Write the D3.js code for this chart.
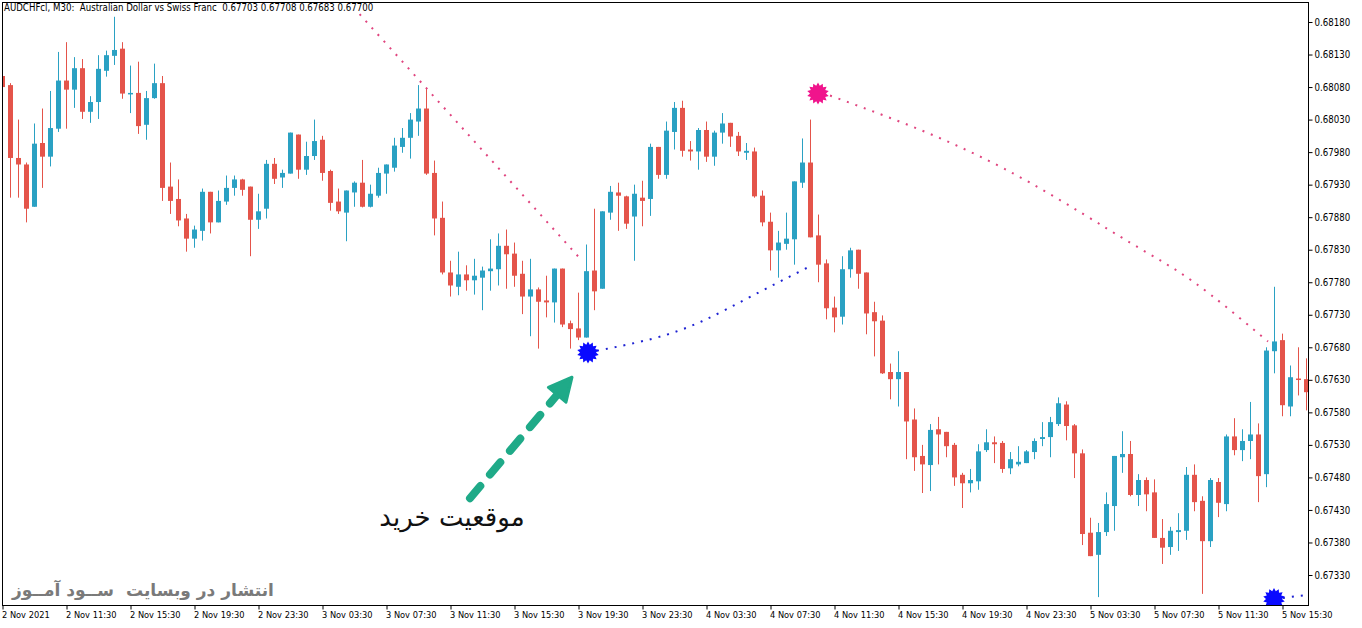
<!DOCTYPE html>
<html><head><meta charset="utf-8">
<script src="https://cdn.jsdelivr.net/npm/d3@7"></script>
<style>body{margin:0;background:#fff;} svg{display:block}</style>
</head><body>
<svg id="c" width="1362" height="628"></svg>
<script>
// ---- data (M30 bars, first bar = 2 Nov 2021 07:30) ----
const timeLabels = ["2 Nov 2021","2 Nov 11:30","2 Nov 15:30","2 Nov 19:30","2 Nov 23:30","3 Nov 03:30","3 Nov 07:30","3 Nov 11:30","3 Nov 15:30","3 Nov 19:30","3 Nov 23:30","4 Nov 03:30","4 Nov 07:30","4 Nov 11:30","4 Nov 15:30","4 Nov 19:30","4 Nov 23:30","5 Nov 03:30","5 Nov 07:30","5 Nov 11:30","5 Nov 15:30"];
const priceTicks = [0.67330,0.67380,0.67430,0.67480,0.67530,0.67580,0.67630,0.67680,0.67730,0.67780,0.67830,0.67880,0.67930,0.67980,0.68030,0.68080,0.68130,0.68180];

const open = [0.68097,0.68083,0.67971,0.67961,0.67896,0.67994,0.67973,0.68016,0.68090,0.68076,0.68109,0.68042,0.68057,0.68105,0.68128,0.68139,0.68070,0.68071,0.68022,0.68063,
0.68086,0.67927,0.67908,0.67878,0.67847,0.67859,0.67919,0.67872,0.67904,0.67925,0.67938,0.67927,0.67876,0.67893,0.67962,0.67941,0.67947,0.68007,0.67953,0.67974,
0.67999,0.67951,0.67904,0.67887,0.67918,0.67933,0.67896,0.67913,0.67947,0.67956,0.67988,0.68002,0.68027,0.68047,0.67948,0.67879,0.67795,0.67773,0.67792,0.67783,
0.67787,0.67797,0.67800,0.67836,0.67824,0.67793,0.67758,0.67769,0.67752,0.67749,0.67801,0.67717,0.67709,0.67695,0.67798,0.67770,0.67887,0.67918,0.67912,0.67881,
0.67910,0.67908,0.67988,0.67945,0.68011,0.68048,0.67984,0.67981,0.68014,0.67973,0.68010,0.68025,0.68005,0.67979,0.67981,0.67913,0.67873,0.67829,0.67839,0.67846,
0.67933,0.67964,0.67852,0.67809,0.67741,0.67727,0.67800,0.67830,0.67795,0.67734,0.67721,0.67642,0.67631,0.67642,0.67569,0.67513,0.67499,0.67554,0.67550,0.67530,
0.67484,0.67471,0.67474,0.67522,0.67534,0.67533,0.67494,0.67500,0.67502,0.67519,0.67539,0.67542,0.67562,0.67592,0.67560,0.67517,0.67395,0.67361,0.67396,0.67436,
0.67511,0.67516,0.67453,0.67476,0.67457,0.67387,0.67373,0.67396,0.67398,0.67484,0.67444,0.67382,0.67473,0.67439,0.67543,0.67522,0.67536,0.67546,0.67485,0.67674,
0.67691,0.67589,0.67632,0.67631];
const high = [0.68102,0.68086,0.68030,0.67964,0.68024,0.68047,0.68074,0.68134,0.68149,0.68126,0.68123,0.68066,0.68129,0.68136,0.68188,0.68149,0.68113,0.68119,0.68074,0.68116,
0.68097,0.67964,0.67938,0.67885,0.67867,0.67924,0.67919,0.67921,0.67944,0.67944,0.67939,0.67927,0.67916,0.67968,0.67971,0.67953,0.68010,0.68007,0.67996,0.68030,
0.68005,0.67953,0.67924,0.67921,0.67935,0.67968,0.67930,0.67956,0.67961,0.68002,0.68017,0.68040,0.68083,0.68079,0.67967,0.67904,0.67813,0.67827,0.67806,0.67816,
0.67804,0.67846,0.67855,0.67861,0.67841,0.67813,0.67816,0.67772,0.67790,0.67801,0.67801,0.67721,0.67764,0.67838,0.67893,0.67889,0.67928,0.67933,0.67913,0.67930,
0.67936,0.67993,0.67988,0.68027,0.68057,0.68059,0.67997,0.68017,0.68027,0.68013,0.68040,0.68025,0.68011,0.67994,0.67987,0.67921,0.67887,0.67859,0.67887,0.67935,
0.68001,0.68030,0.67884,0.67815,0.67758,0.67820,0.67833,0.67830,0.67795,0.67750,0.67729,0.67655,0.67674,0.67642,0.67586,0.67530,0.67562,0.67573,0.67550,0.67533,
0.67487,0.67493,0.67531,0.67554,0.67543,0.67536,0.67519,0.67528,0.67522,0.67540,0.67565,0.67573,0.67603,0.67597,0.67562,0.67523,0.67418,0.67410,0.67457,0.67513,
0.67551,0.67536,0.67485,0.67480,0.67477,0.67416,0.67404,0.67425,0.67496,0.67500,0.67451,0.67479,0.67479,0.67546,0.67571,0.67554,0.67596,0.67563,0.67680,0.67773,
0.67701,0.67652,0.67680,0.67663];
const low = [0.68076,0.67910,0.67910,0.67872,0.67896,0.67925,0.67958,0.68011,0.68016,0.68048,0.68031,0.68025,0.68031,0.68096,0.68114,0.68062,0.68040,0.68008,0.67999,0.68062,
0.67905,0.67885,0.67866,0.67827,0.67833,0.67844,0.67855,0.67872,0.67899,0.67913,0.67913,0.67820,0.67862,0.67878,0.67931,0.67925,0.67947,0.67939,0.67945,0.67968,
0.67936,0.67890,0.67885,0.67843,0.67896,0.67895,0.67895,0.67910,0.67916,0.67950,0.67979,0.67970,0.68005,0.67945,0.67852,0.67792,0.67758,0.67760,0.67767,0.67761,
0.67737,0.67767,0.67775,0.67770,0.67773,0.67731,0.67697,0.67678,0.67726,0.67718,0.67711,0.67678,0.67691,0.67695,0.67737,0.67770,0.67876,0.67859,0.67862,0.67813,
0.67866,0.67882,0.67939,0.67939,0.67984,0.67973,0.67967,0.67953,0.67965,0.67959,0.67993,0.67988,0.67974,0.67968,0.67910,0.67866,0.67798,0.67787,0.67830,0.67807,
0.67925,0.67849,0.67780,0.67723,0.67703,0.67715,0.67787,0.67770,0.67700,0.67666,0.67639,0.67600,0.67589,0.67508,0.67490,0.67456,0.67459,0.67500,0.67511,0.67467,
0.67433,0.67457,0.67461,0.67519,0.67502,0.67487,0.67485,0.67497,0.67502,0.67508,0.67528,0.67511,0.67559,0.67537,0.67479,0.67376,0.67359,0.67296,0.67390,0.67398,
0.67487,0.67451,0.67436,0.67428,0.67387,0.67347,0.67361,0.67367,0.67384,0.67428,0.67301,0.67373,0.67419,0.67428,0.67514,0.67505,0.67508,0.67442,0.67465,0.67640,
0.67574,0.67574,0.67606,0.67583];
const close = [0.68080,0.67971,0.67961,0.67893,0.67993,0.67973,0.68017,0.68090,0.68076,0.68109,0.68042,0.68057,0.68108,0.68129,0.68137,0.68070,0.68071,0.68020,0.68063,0.68086,
0.67925,0.67905,0.67875,0.67847,0.67861,0.67919,0.67872,0.67905,0.67925,0.67938,0.67922,0.67876,0.67889,0.67962,0.67939,0.67948,0.68010,0.67953,0.67974,0.67997,
0.67948,0.67902,0.67889,0.67921,0.67933,0.67896,0.67916,0.67948,0.67961,0.67990,0.68002,0.68030,0.68047,0.67947,0.67878,0.67795,0.67775,0.67792,0.67783,0.67790,
0.67798,0.67801,0.67836,0.67823,0.67790,0.67758,0.67769,0.67750,0.67749,0.67801,0.67715,0.67708,0.67695,0.67797,0.67766,0.67889,0.67919,0.67913,0.67870,0.67916,
0.67905,0.67988,0.67945,0.68013,0.68048,0.67982,0.67981,0.68014,0.67973,0.68010,0.68024,0.68004,0.67981,0.67982,0.67912,0.67872,0.67829,0.67841,0.67847,0.67935,
0.67964,0.67849,0.67807,0.67740,0.67726,0.67800,0.67829,0.67793,0.67732,0.67720,0.67640,0.67631,0.67642,0.67566,0.67511,0.67500,0.67553,0.67546,0.67528,0.67480,
0.67471,0.67476,0.67520,0.67534,0.67531,0.67493,0.67508,0.67504,0.67520,0.67536,0.67542,0.67565,0.67594,0.67559,0.67517,0.67393,0.67359,0.67396,0.67439,0.67513,
0.67516,0.67453,0.67476,0.67454,0.67387,0.67372,0.67398,0.67399,0.67484,0.67442,0.67382,0.67476,0.67441,0.67543,0.67522,0.67536,0.67546,0.67482,0.67675,0.67689,
0.67591,0.67634,0.67631,0.67611];

// indicator arcs: [bar index, price]
const sellArcA = [[44.7,0.68192],[72.0,0.67820]];
const sellArcB = [[103.5,0.68067],[116,0.68008],[128.5,0.67933],[141,0.67841],[149,0.67780],[158.25,0.67689]];
const buyArcA  = [[73.25,0.67672],[81.25,0.67693],[87.5,0.67720],[93.75,0.67759],[101.25,0.67806]];
const buyArcB  = [[159,0.67293],[163.5,0.67300]];
const buyStars  = [[73.25,0.67672],[159,0.67293]];
const sellStars = [[102,0.68070]];
const arrowTail = [58.5,0.67448], arrowTip = [71.25,0.67634];
const noteLabel = {bar:56.25, price:0.67405, text:"موقعیت خرید"};
const titleText = "AUDCHFcl, M30:  Australian Dollar vs Swiss Franc  0.67703 0.67708 0.67683 0.67700";
const watermark = "انتشار در وبسایت  ســود آمــوز";

// ---- layout ----
const svg = d3.select("#c");
const L = 2.5, R = 1308.5, T = 2.5, B = 605.5;
const x = d3.scaleLinear().domain([0,163]).range([2,1306]);
const y = d3.scaleLinear().domain([0.67330,0.68180]).range([575,22]);
const UP = "#2aa1c3", DN = "#e4544a";
const FONT = "'DejaVu Sans Condensed','DejaVu Sans',sans-serif";

svg.append("defs").append("clipPath").attr("id","pc")
  .append("rect").attr("x",L).attr("y",T).attr("width",R-L).attr("height",B-T);
const plot = svg.append("g").attr("clip-path","url(#pc)");

const bars = d3.range(open.length).map(i=>({i,o:open[i],h:high[i],l:low[i],c:close[i]}));
const g = plot.append("g");
g.selectAll("line.w").data(bars).join("line")
  .attr("x1",d=>Math.round(x(d.i))+0.5).attr("x2",d=>Math.round(x(d.i))+0.5)
  .attr("y1",d=>y(d.h)).attr("y2",d=>y(d.l))
  .attr("stroke",d=>d.c>=d.o?UP:DN).attr("stroke-width",1);
g.selectAll("rect.b").data(bars).join("rect")
  .attr("x",d=>Math.round(x(d.i))-2).attr("width",5)
  .attr("y",d=>y(Math.max(d.o,d.c)))
  .attr("height",d=>Math.max(1.5,Math.abs(y(d.o)-y(d.c))))
  .attr("fill",d=>d.c>=d.o?UP:DN);

// dotted arcs
const ln = d3.line().x(d=>x(d[0])).y(d=>y(d[1])).curve(d3.curveNatural);
function dotted(data,color){
  plot.append("path").attr("d",ln(data)).attr("fill","none")
    .attr("stroke",color).attr("stroke-width",2).attr("stroke-dasharray","2,7");
}
dotted(sellArcA,"#e0457f");
dotted(sellArcB,"#e0457f");
dotted(buyArcA,"#1e22d2");
dotted(buyArcB,"#1e22d2");

// stars
function starPath(r1,r2,n){
  const p=[];
  for(let k=0;k<2*n;k++){const a=k*Math.PI/n-Math.PI/2, r=k%2?r2:r1; p.push([r*Math.cos(a),r*Math.sin(a)]);}
  return "M"+p.map(q=>q[0].toFixed(2)+","+q[1].toFixed(2)).join("L")+"Z";
}
const sp = starPath(11,8,14);
plot.selectAll("path.bs").data(buyStars).join("path").attr("d",sp)
  .attr("transform",d=>`translate(${x(d[0])},${y(d[1])})`).attr("fill","#0a0aff");
plot.selectAll("path.ss").data(sellStars).join("path").attr("d",sp)
  .attr("transform",d=>`translate(${x(d[0])},${y(d[1])})`).attr("fill","#f0148c");

// arrow
{
  const x0=x(arrowTail[0]), y0=y(arrowTail[1]), x1=x(arrowTip[0]), y1=y(arrowTip[1]);
  const dx=x1-x0, dy=y1-y0, len=Math.hypot(dx,dy), ux=dx/len, uy=dy/len, px=-uy, py=ux;
  const hl=23, hw=11.5;
  const bx=x1-ux*hl, by=y1-uy*hl;
  svg.append("line").attr("x1",x0).attr("y1",y0).attr("x2",bx+ux*2).attr("y2",by+uy*2)
    .attr("stroke","#1faa88").attr("stroke-width",8).attr("stroke-linecap","round")
    .attr("stroke-dasharray","16,15");
  svg.append("path").attr("d",`M${x1},${y1}L${bx+px*hw},${by+py*hw}L${bx-px*hw},${by-py*hw}Z`)
    .attr("fill","#1faa88").attr("stroke","#1faa88").attr("stroke-width",3).attr("stroke-linejoin","round");
}
svg.append("text").attr("x",x(noteLabel.bar)).attr("y",y(noteLabel.price))
  .attr("text-anchor","middle").attr("font-family","'DejaVu Sans',sans-serif")
  .attr("font-size",26).attr("fill","#111").attr("direction","rtl").text(noteLabel.text);

// frame
svg.append("rect").attr("x",L).attr("y",T).attr("width",R-L).attr("height",B-T)
  .attr("fill","none").attr("stroke","#000").attr("stroke-width",1);

// axes
const ya = d3.axisRight(y).tickValues(priceTicks).tickFormat(d3.format(".5f")).tickSize(4).tickPadding(2);
const yg = svg.append("g").attr("transform",`translate(${R},0)`).call(ya);
yg.select(".domain").remove();
yg.selectAll("text").attr("font-family",FONT).attr("font-size",9.6).attr("fill","#000");
yg.selectAll("line").attr("stroke","#000");

const xa = d3.axisBottom(x).tickValues(d3.range(0,161,8)).tickFormat((d,i)=>timeLabels[i]).tickSize(4).tickPadding(2);
const xg = svg.append("g").attr("transform",`translate(0.5,${B})`).call(xa);
xg.select(".domain").remove();
xg.selectAll("text").attr("font-family",FONT).attr("font-size",9.2).attr("fill","#000")
  .attr("text-anchor","start").attr("dx",-1);
xg.selectAll("line").attr("stroke","#000");

// title & watermark
svg.append("text").attr("x",4).attr("y",11).attr("font-family",FONT).attr("font-size",9.6)
  .attr("fill","#000").style("white-space","pre").text(titleText);
svg.append("text").attr("x",12).attr("y",596).attr("font-family","'DejaVu Sans',sans-serif")
  .attr("font-size",17).attr("font-weight","bold").attr("fill","#7a7a7a")
  .attr("direction","rtl").attr("text-anchor","end").style("white-space","pre").text(watermark);
</script>
</body></html>
